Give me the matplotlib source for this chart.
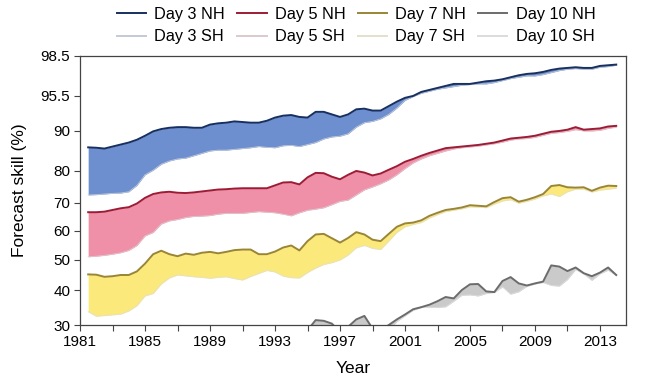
import matplotlib
matplotlib.use("Agg")
import matplotlib.pyplot as plt
import numpy as np

plt.rcParams['font.family'] = ['Liberation Sans', 'DejaVu Sans']

# half-year grid for days 3, 5, 7
years = np.arange(1981.5, 2014.01, 0.5)

d3_nh = [85.9, 85.8, 85.6, 86.1, 86.6, 87.1, 87.8, 88.8, 89.9, 90.3, 90.5, 90.6, 90.6, 90.5,
         90.5, 91.0, 91.2, 91.3, 91.5, 91.4, 91.3, 91.3, 91.6, 92.1, 92.4, 92.5, 92.2, 92.1,
         93.0, 93.0, 92.6, 92.2, 92.6, 93.4, 93.5, 93.2, 93.2, 93.9, 94.6, 95.2, 95.5, 95.8,
         95.95, 96.1, 96.25, 96.4, 96.4, 96.4, 96.5, 96.6, 96.65, 96.75, 96.9, 97.05, 97.15,
         97.2, 97.3, 97.45, 97.55, 97.6, 97.65, 97.6, 97.6, 97.75, 97.8, 97.85]
d3_sh = [72.5, 72.6, 72.8, 73.0, 73.1, 73.5, 75.5, 78.8, 80.2, 81.7, 82.5, 83.0, 83.2, 83.8,
         84.4, 85.0, 85.2, 85.2, 85.4, 85.6, 85.8, 86.1, 85.9, 85.8, 86.3, 86.4, 86.1, 86.6,
         87.1, 88.0, 88.5, 88.7, 89.3, 90.6, 91.3, 91.5, 91.9, 92.6, 93.6, 94.8, 95.4, 95.7,
         95.85, 96.0, 96.1, 96.2, 96.3, 96.35, 96.4, 96.4, 96.5, 96.65, 96.8, 96.9, 97.0,
         97.0, 97.1, 97.25, 97.4, 97.5, 97.55, 97.5, 97.5, 97.65, 97.7, 97.8]

d5_nh = [66.7, 66.7, 66.9, 67.5, 68.1, 68.5, 69.8, 71.6, 72.8, 73.3, 73.5, 73.2, 73.1, 73.3,
         73.6, 73.9, 74.2, 74.3, 74.5, 74.6, 74.6, 74.6, 74.6, 75.5, 76.4, 76.5, 75.8, 78.0,
         79.4, 79.3, 78.2, 77.4, 78.8, 80.0, 79.5, 78.6, 79.2, 80.3, 81.2, 82.3, 83.0, 83.8,
         84.5, 85.1, 85.7, 85.9, 86.1, 86.3, 86.5, 86.8, 87.1, 87.6, 88.1, 88.3, 88.5, 88.8,
         89.3, 89.8, 90.0, 90.2, 90.6, 90.2, 90.3, 90.4, 90.7, 90.8]
d5_sh = [51.1, 51.3, 51.6, 52.0, 52.5, 53.3, 55.0, 58.3, 59.5, 62.5, 63.6, 64.1, 64.8, 65.2,
         65.3, 65.5, 66.0, 66.3, 66.3, 66.3, 66.6, 66.9, 66.7, 66.5, 66.0, 65.4, 66.5, 67.4,
         67.8, 68.3, 69.4, 70.5, 70.9, 72.5, 74.1, 75.0, 76.0, 77.2, 78.8, 80.6, 82.0, 83.0,
         83.8, 84.4, 85.0, 85.5, 85.8, 86.0, 86.2, 86.5, 86.8, 87.2, 87.7, 88.0, 88.1, 88.4,
         88.9, 89.4, 89.6, 89.9, 90.2, 90.0, 90.0, 90.1, 90.4, 90.6]

d7_nh = [45.2, 45.1, 44.4, 44.6, 45.0, 45.0, 46.2, 48.8, 52.0, 53.2, 52.0, 51.3, 52.2, 51.8,
         52.5, 52.8, 52.3, 52.8, 53.4, 53.6, 53.6, 52.0, 52.0, 52.9, 54.3, 55.0, 53.3, 56.5,
         58.8, 59.0, 57.5, 56.0, 57.6, 59.6, 58.8, 57.0, 56.5, 59.0, 61.5, 62.7, 63.0, 63.8,
         65.4, 66.5, 67.5, 67.9, 68.4, 69.2, 69.0, 68.8, 70.3, 71.5, 71.8, 70.4, 71.0, 71.8,
         72.8, 75.3, 75.6, 74.9, 74.8, 74.9, 73.8, 74.8, 75.4, 75.3]
d7_sh = [33.8, 32.5, 32.7, 32.9, 33.1, 34.0, 35.5, 38.3, 39.0, 42.0, 44.0, 45.0, 44.7, 44.4,
         44.2, 43.9, 44.2, 44.4, 43.8, 43.3, 44.5, 45.5, 46.5, 46.0, 44.6, 44.1, 44.0, 45.8,
         47.3, 48.5, 49.1, 50.0, 51.7, 54.2, 55.0, 54.0, 53.6, 56.5, 59.5, 61.5, 62.3, 63.0,
         64.6, 65.8, 66.9, 67.4, 67.9, 68.6, 68.5, 68.3, 69.6, 70.6, 71.0, 69.9, 70.5, 71.2,
         72.2, 72.8, 72.0, 73.5, 74.3, 74.3, 73.4, 74.0, 74.3, 74.6]

# day 10 only rises above the axis floor from the mid 1990s
years10 = np.arange(1995.0, 2014.01, 0.5)
d10_nh = [28.5, 31.4, 31.2, 30.4, 28.0, 29.5, 31.6, 32.6, 29.0, 28.5, 30.0, 31.6, 33.0, 34.5,
          35.1, 35.8, 36.8, 38.0, 37.6, 40.0, 41.9, 42.0, 39.6, 39.4, 43.0, 44.3, 42.2, 41.5,
          42.2, 42.8, 48.2, 47.8, 46.3, 47.5, 45.6, 44.6, 45.8, 47.5, 45.0]
d10_sh = [27.0, 29.0, 29.0, 28.5, 27.0, 27.5, 29.0, 29.5, 27.5, 27.0, 28.5, 31.0, 32.6, 34.2,
          35.0, 35.0, 35.0, 35.2, 36.8, 38.5, 38.6, 38.3, 39.0, 39.3, 41.0, 38.8, 39.5, 41.2,
          42.0, 42.5, 41.5, 41.3, 43.5, 46.8, 45.3, 43.2, 45.4, 46.6, 44.8]

ytick_vals = [30, 40, 50, 60, 70, 80, 90, 95.5, 98.5]
ytick_labels = ['30', '40', '50', '60', '70', '80', '90', '95.5', '98.5']

# stretched skill axis (piecewise linear between the tick values)
knot_val = np.array([0, 30, 40, 50, 60, 70, 80, 90, 95.5, 98.5, 100])
knot_pos = np.array([-105, 0, 35, 65, 94, 122, 154, 194, 229, 269, 289], float)

def fwd(v):
    return np.interp(v, knot_val, knot_pos)

def inv(p):
    return np.interp(p, knot_pos, knot_val)

days = [
    ('Day 3', years, d3_nh, d3_sh, '#17305f', '#6d8ecf', '#c3cad6'),
    ('Day 5', years, d5_nh, d5_sh, '#9c1c35', '#ef8fa8', '#dcc9cd'),
    ('Day 7', years, d7_nh, d7_sh, '#9a8535', '#fbe97c', '#e4e0cc'),
    ('Day 10', years10, d10_nh, d10_sh, '#6b6b6b', '#cacaca', '#dcdcdc'),
]

fig = plt.figure(figsize=(6.67, 3.83), dpi=100)
ax = fig.add_axes([0.12, 0.1514, 0.8185, 0.7026])
ax.set_yscale('function', functions=(fwd, inv))

handles = []
for name, x, nh, sh, c_nh, c_fill, c_sh in days:
    ax.fill_between(x, nh, sh, color=c_fill, lw=0)
    ax.plot(x, sh, color=c_sh, lw=0.6)
    h1, = ax.plot(x, nh, color=c_nh, lw=1.4, label=name + ' NH')
    h2, = ax.plot([], [], color=c_sh, lw=1.4, label=name + ' SH')
    handles += [h1, h2]

ax.set_xlim(1981, 2014.6)
ax.set_ylim(30, 98.5)
ax.set_yticks(ytick_vals)
ax.set_yticklabels(ytick_labels)
ax.set_yticks([], minor=True)
ax.set_xticks(np.arange(1981, 2014, 4))
ax.set_xticks(np.arange(1983, 2015, 4), minor=True)
ax.tick_params(axis='both', which='both', direction='out', length=4, width=0.8,
               labelsize=11, color='#444444')
ax.tick_params(axis='y', pad=3)
for s in ax.spines.values():
    s.set_color('#444444')
    s.set_linewidth(0.9)

ax.set_xlabel('Year', fontsize=12.5)
ax.xaxis.set_label_coords(0.5, -0.135)
ax.set_ylabel('Forecast skill (%)', fontsize=12.5)
ax.yaxis.set_label_coords(-0.097, 0.5)

fig.legend(handles=handles, ncol=4, loc='center', bbox_to_anchor=(0.534, 0.933),
           frameon=False, fontsize=11.7, handlelength=1.8, handletextpad=0.5,
           columnspacing=0.75, labelspacing=0.45)

fig.savefig('out.png', dpi=100)
